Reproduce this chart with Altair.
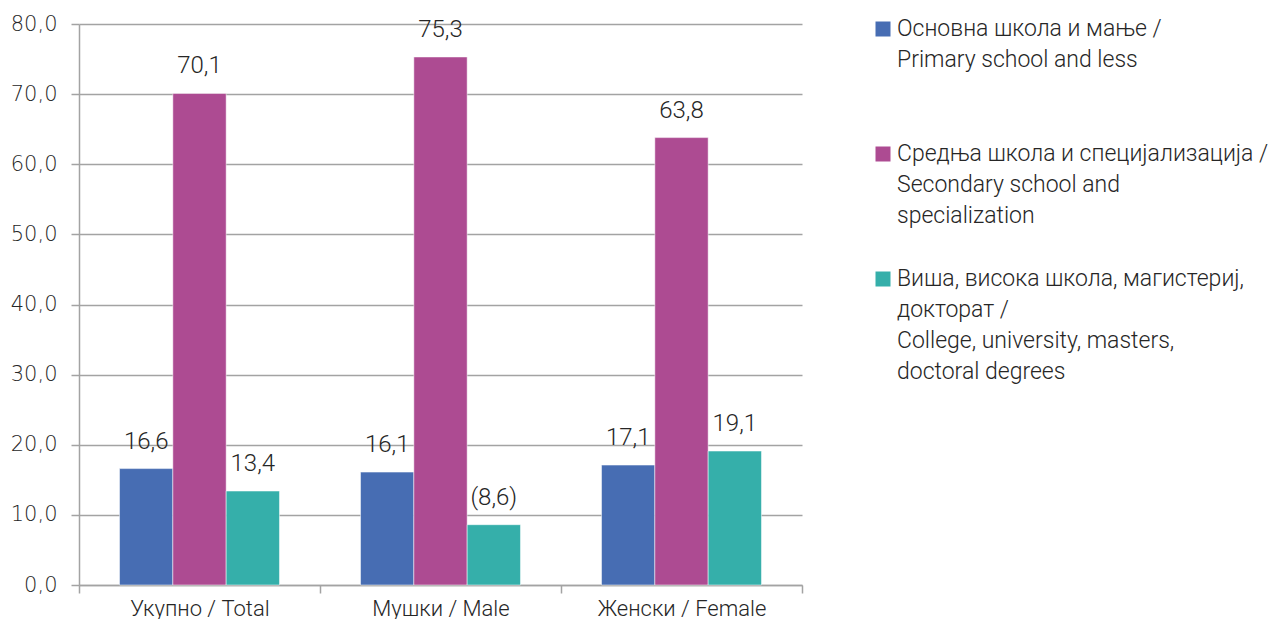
import altair as alt
import pandas as pd

categories = ["Укупно / Total", "Мушки / Male", "Женски / Female"]
series = [
    "Основна школа и мање / Primary school and less",
    "Средња школа и специјализација / Secondary school and specialization",
    "Виша, висока школа, магистериј, докторат / College, university, masters, doctoral degrees",
]
values = {
    series[0]: [16.6, 16.1, 17.1],
    series[1]: [70.1, 75.3, 63.8],
    series[2]: [13.4, 8.6, 19.1],
}
value_labels = {
    series[0]: ["16,6", "16,1", "17,1"],
    series[1]: ["70,1", "75,3", "63,8"],
    series[2]: ["13,4", "(8,6)", "19,1"],
}
colors = ["#476db3", "#ad4b92", "#35afaa"]
legend_lines = [
    ["Основна школа и мање /", "Primary school and less"],
    ["Средња школа и специјализација /", "Secondary school and", "specialization"],
    ["Виша, висока школа, магистериј,", "докторат /", "College, university, masters,", "doctoral degrees"],
]
y_ticks = [0, 10, 20, 30, 40, 50, 60, 70, 80]

rows = []
for s in series:
    for i, c in enumerate(categories):
        rows.append({"cat": c, "series": s, "value": values[s][i], "label": value_labels[s][i]})
df = pd.DataFrame(rows)

FONT = "Roboto"
GRID = "#a3a3a3"
TXT = "#262626"
FS = 24

color_scale = alt.Scale(domain=series, range=colors)

base = alt.Chart(df).encode(
    x=alt.X("cat:N", sort=categories, title=None,
            scale=alt.Scale(paddingInner=0, paddingOuter=0),
            axis=alt.Axis(labelAngle=0, labelFont=FONT, labelFontSize=22, labelFontWeight=300,
                          labelLimit=400,
                          labelColor=TXT, labelPadding=5, tickSize=8, tickColor=GRID, tickWidth=1.5,
                          tickBand="extent", domainColor=GRID, domainWidth=1.5, grid=False)),
    xOffset=alt.XOffset("series:N", sort=series, scale=alt.Scale(paddingInner=0, paddingOuter=0.76)),
)

bars = base.mark_bar(stroke="white", strokeWidth=0.5).encode(
    y=alt.Y("value:Q", title=None,
            scale=alt.Scale(domain=[0, 80], nice=False),
            axis=alt.Axis(values=y_ticks, labelExpr="replace(format(datum.value, '.1f'), '.', ',')",
                          labelFont="DejaVu Sans", labelFontSize=21, labelFontWeight=200,
                          labelColor=TXT, labelPadding=14, tickSize=8, tickColor=GRID, tickWidth=1.5,
                          domainColor=GRID, domainWidth=1.5, gridColor=GRID, gridWidth=1.5)),
    color=alt.Color("series:N", scale=color_scale, legend=None),
)

texts = base.mark_text(font=FONT, fontSize=FS, fontWeight=300, color=TXT,
                       baseline="middle", dy=-27).encode(
    y=alt.Y("value:Q"),
    text="label:N",
)

main = alt.layer(bars, texts).properties(width=723, height=561)

leg_rows = []
for i, s in enumerate(series):
    leg_rows.append({"idx": i, "series": s, "text": legend_lines[i]})
ldf = pd.DataFrame(leg_rows)

ly = alt.Y("idx:Q", scale=alt.Scale(domain=[-0.04, 4.448], reverse=True), axis=None)
leg_sq = alt.Chart(ldf).mark_square(size=225, opacity=1).encode(
    x=alt.value(72), y=ly,
    color=alt.Color("series:N", scale=color_scale, legend=None),
)
leg_tx = alt.Chart(ldf).mark_text(font=FONT, fontSize=23, fontWeight=300, color=TXT,
                                  align="left", baseline="top", lineHeight=31, dy=-11).encode(
    x=alt.value(86), y=ly, text="text",
)
legend = alt.layer(leg_sq, leg_tx).properties(width=440, height=561)

chart = alt.hconcat(main, legend, spacing=8).properties(
    padding={"left": 2, "top": 5, "right": 0, "bottom": 0}
).configure(background="white").configure_view(stroke="transparent", strokeWidth=0)

chart.save("out.html", embed_options={"renderer": "svg", "actions": False})
